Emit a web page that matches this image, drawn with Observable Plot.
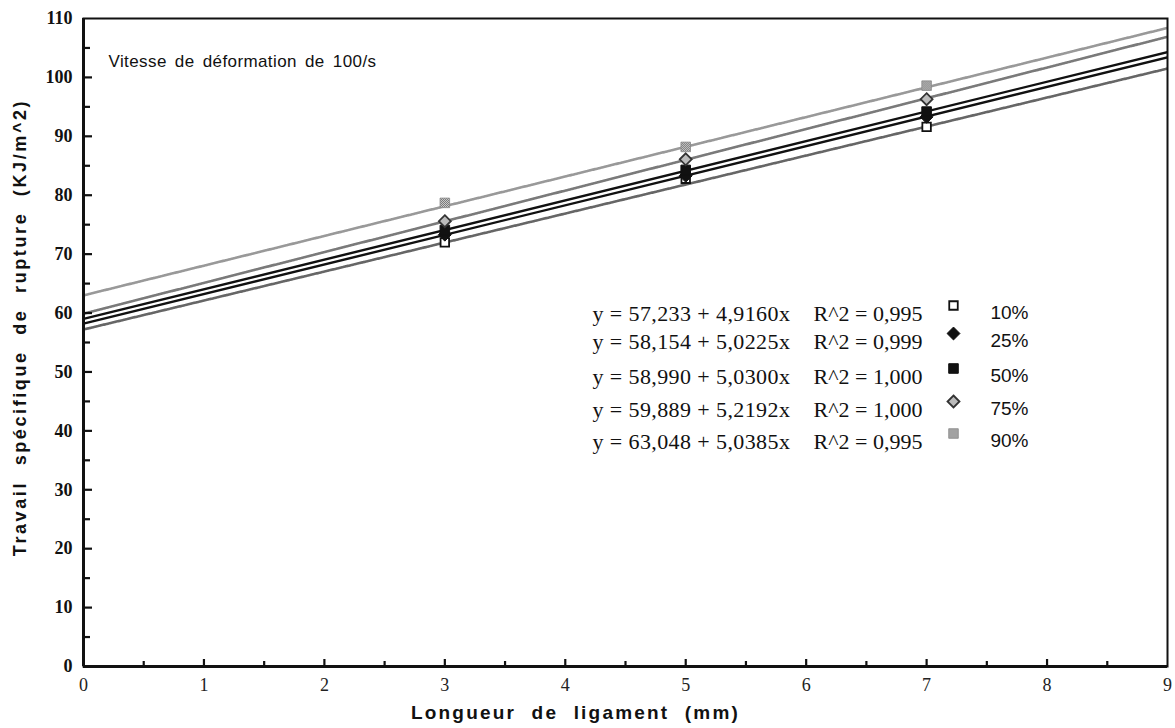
<!DOCTYPE html>
<html>
<head>
<meta charset="utf-8">
<script src="https://cdn.jsdelivr.net/npm/d3@7"></script>
<script src="https://cdn.jsdelivr.net/npm/@observablehq/plot@0.6"></script>
<style>
  html, body { margin: 0; padding: 0; background: #fff; }
  #chart svg { display: block; }
</style>
</head>
<body>
<div id="chart"></div>
<script>
// ---- data ----
const series = ["10%", "25%", "50%", "75%", "90%"];
const measureX = [3, 5, 7];
const values10 = [72.0, 82.8, 91.6];
const values25 = [73.3, 83.3, 93.3];
const values50 = [74.1, 84.3, 94.2];
const values75 = [75.6, 86.1, 96.3];
const values90 = [78.7, 88.2, 98.6];
// regression line ends (x = 0 and x = 9)
const lineX = [0, 9];
const line10 = [57.2, 101.5];
const line25 = [58.2, 103.4];
const line50 = [59.0, 104.3];
const line75 = [59.9, 106.9];
const line90 = [63.0, 108.4];
// legend texts
const equations = [
  "y = 57,233 + 4,9160x",
  "y = 58,154 + 5,0225x",
  "y = 58,990 + 5,0300x",
  "y = 59,889 + 5,2192x",
  "y = 63,048 + 5,0385x"
];
const r2Texts = ["R^2 = 0,995", "R^2 = 0,999", "R^2 = 1,000", "R^2 = 1,000", "R^2 = 0,995"];
const xTicks = [0, 1, 2, 3, 4, 5, 6, 7, 8, 9];
const xMinor = [0.5, 1.5, 2.5, 3.5, 4.5, 5.5, 6.5, 7.5, 8.5];
const yTicks = [0, 10, 20, 30, 40, 50, 60, 70, 80, 90, 100, 110];
const yMinor = [5, 15, 25, 35, 45, 55, 65, 75, 85, 95, 105];
const subtitle = "Vitesse de déformation de 100/s";
const xTitle = "Longueur de ligament (mm)";
const yTitle = "Travail spécifique de rupture (KJ/m^2)";

// ---- tables ----
const pointSets = [values10, values25, values50, values75, values90];
const lineSets = [line10, line25, line50, line75, line90];
const points = series.flatMap((s, i) => measureX.map((x, j) => ({series: s, x, y: pointSets[i][j]})));
const lines = series.flatMap((s, i) => lineX.map((x, j) => ({series: s, x, y: lineSets[i][j]})));

// styles
const lineStyle = {
  "10%": {stroke: "#666", width: 2.6, dash: "2,1"},
  "25%": {stroke: "#111", width: 2.4, dash: null},
  "50%": {stroke: "#111", width: 2.4, dash: null},
  "75%": {stroke: "#7a7a7a", width: 2.6, dash: "2,1"},
  "90%": {stroke: "#999", width: 2.6, dash: "2,1"}
};
const markStyle = {
  "10%": {symbol: "square", fill: "#fff", stroke: "#111", r: 4.8, sw: 1.8},
  "25%": {symbol: "diamond2", fill: "#111", stroke: "#111", r: 5.8, sw: 1},
  "50%": {symbol: "square", fill: "#111", stroke: "#111", r: 5.4, sw: 1},
  "75%": {symbol: "diamond2", fill: "#bbb", stroke: "#333", r: 5.4, sw: 1.8},
  "90%": {symbol: "square", fill: "url(#checker)", stroke: "#888", r: 5.4, sw: 0.8}
};

const W = 1175, H = 728;
const mL = 83, mR = 8, mT = 18, mB = 62;
const innerW = W - mL - mR, innerH = H - mT - mB;
const serif = "'Liberation Serif', 'Times New Roman', serif";
const sans = "'Liberation Sans', Arial, Helvetica, sans-serif";

const marks = [];
// regression lines
series.forEach(s => {
  const st = lineStyle[s];
  marks.push(Plot.line(lines.filter(d => d.series === s), {
    x: "x", y: "y", stroke: st.stroke, strokeWidth: st.width,
    strokeDasharray: st.dash, clip: true
  }));
});
// data points
series.forEach(s => {
  const st = markStyle[s];
  marks.push(Plot.dot(points.filter(d => d.series === s), {
    x: "x", y: "y", symbol: () => st.symbol, r: st.r,
    fill: st.fill, stroke: st.stroke, strokeWidth: st.sw
  }));
});
// frame & axes lines
marks.push(Plot.frame({stroke: "#111", strokeWidth: 2}));
marks.push(Plot.ruleX([0], {stroke: "#111", strokeWidth: 3}));
marks.push(Plot.ruleY([0], {stroke: "#111", strokeWidth: 3}));
// inward ticks
marks.push(Plot.tickX(xTicks.slice(1, -1), {x: d => d, insetTop: innerH - 7, stroke: "#111", strokeWidth: 2.2}));
marks.push(Plot.tickX(xMinor, {x: d => d, insetTop: innerH - 5, stroke: "#111", strokeWidth: 2.2}));
marks.push(Plot.tickY(yTicks.slice(1, -1), {y: d => d, insetRight: innerW - 9, stroke: "#111", strokeWidth: 2.2}));
marks.push(Plot.tickY(yMinor, {y: d => d, insetRight: innerW - 7, stroke: "#111", strokeWidth: 2.2}));
// tick labels
marks.push(Plot.axisX({ticks: xTicks, tickSize: 0, tickPadding: 12, tickFormat: d => String(d), label: null,
  fontFamily: serif, fontSize: 18, fill: "#222"}));
marks.push(Plot.axisY({ticks: yTicks, tickSize: 0, tickPadding: 11, tickFormat: d => String(d), label: null,
  fontFamily: serif, fontSize: 18, fontWeight: "bold", fill: "#111"}));
// titles
marks.push(Plot.text([xTitle], {text: d => d, frameAnchor: "bottom", dx: -50, dy: 52,
  fontFamily: sans, fontSize: 19, fontWeight: "bold", fill: "#111"}));
marks.push(Plot.text([yTitle], {text: d => d, frameAnchor: "left", rotate: -90, dx: -63, dy: -15,
  fontFamily: sans, fontSize: 18, fontWeight: "bold", fill: "#111", textAnchor: "middle"}));
marks.push(Plot.text([subtitle], {text: d => d, frameAnchor: "top-left", dx: 25, dy: 36,
  fontFamily: sans, fontSize: 17, fill: "#111", textAnchor: "start"}));
// legend
const rowDy = [287, 315, 350, 383, 415];
series.forEach((s, i) => {
  const st = markStyle[s];
  marks.push(Plot.text([equations[i]], {text: d => d, frameAnchor: "top-left", dx: 509, dy: rowDy[i],
    fontFamily: serif, fontSize: 22, fill: "#111", textAnchor: "start"}));
  marks.push(Plot.text([r2Texts[i]], {text: d => d, frameAnchor: "top-left", dx: 730, dy: rowDy[i],
    fontFamily: serif, fontSize: 22, fill: "#111", textAnchor: "start"}));
  marks.push(Plot.dot([s], {frameAnchor: "top-left", dx: 870, dy: rowDy[i],
    symbol: () => st.symbol, r: st.r, fill: st.fill, stroke: st.stroke, strokeWidth: st.sw}));
  marks.push(Plot.text([s], {text: d => d, frameAnchor: "top-left", dx: 945, dy: rowDy[i],
    fontFamily: sans, fontSize: 19, fill: "#111", textAnchor: "end"}));
});

const chart = Plot.plot({
  width: W, height: H,
  marginLeft: mL, marginRight: mR, marginTop: mT, marginBottom: mB,
  style: {background: "#fff", color: "#111"},
  x: {domain: [0, 9], axis: null},
  y: {domain: [0, 110], axis: null},
  marks
});

// letter spacing of the spaced-out titles
d3.select(chart).selectAll("text")
  .filter(function() { return this.textContent === xTitle; })
  .attr("letter-spacing", "2.2px").attr("word-spacing", "8px");
d3.select(chart).selectAll("text")
  .filter(function() { return this.textContent === yTitle; })
  .attr("letter-spacing", "2.6px").attr("word-spacing", "8px");
d3.select(chart).selectAll("text")
  .filter(function() { return this.textContent === subtitle; })
  .attr("letter-spacing", "0.4px").attr("word-spacing", "3px");
d3.select(chart).selectAll("text")
  .filter(function() { return equations.includes(this.textContent); })
  .attr("letter-spacing", "0.4px");

// checker pattern for the 90% marker
const ns = "http://www.w3.org/2000/svg";
const defs = document.createElementNS(ns, "defs");
defs.innerHTML = `<pattern id="checker" width="2" height="2" patternUnits="userSpaceOnUse">
  <rect width="2" height="2" fill="#eee"/><rect width="1" height="1" fill="#555"/>
  <rect x="1" y="1" width="1" height="1" fill="#555"/></pattern>`;
chart.insertBefore(defs, chart.firstChild);
document.getElementById("chart").appendChild(chart);
</script>
</body>
</html>
